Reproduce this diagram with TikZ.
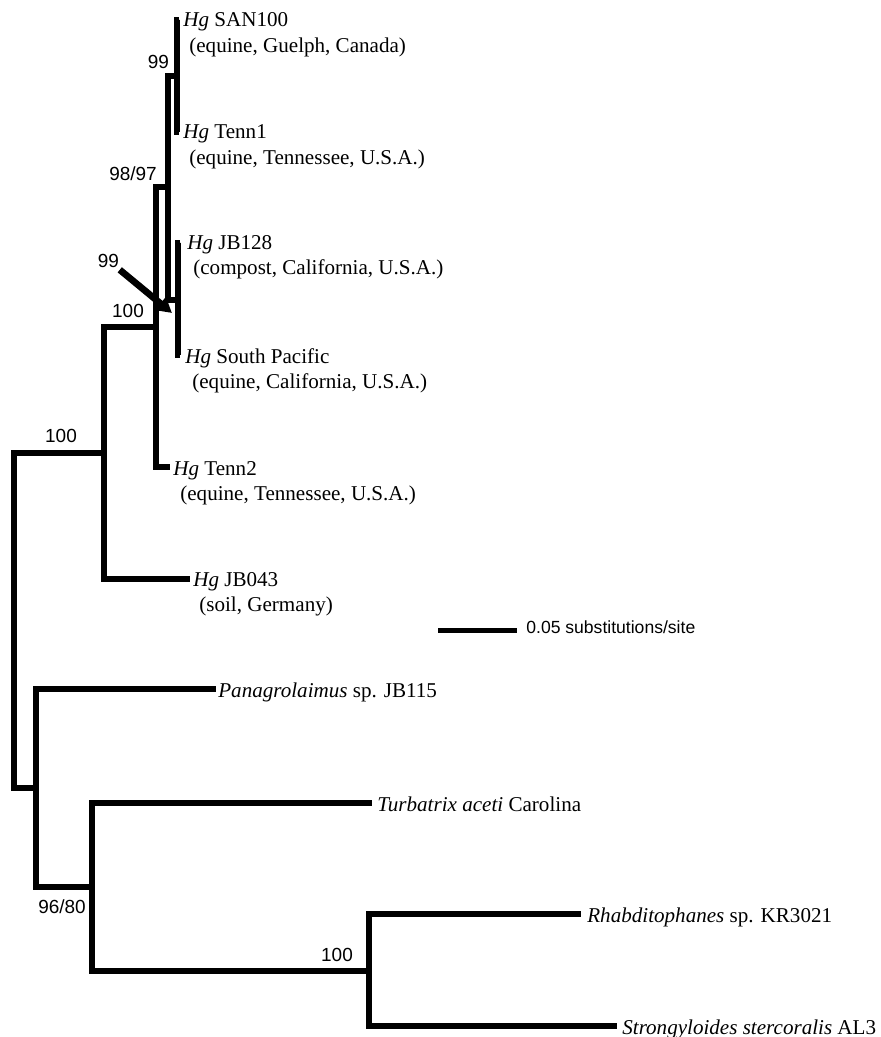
\documentclass[tikz,border=0pt]{standalone}
\usepackage{fontspec}
\setmainfont{Liberation Serif}
\setsansfont{Liberation Sans}
\usetikzlibrary{arrows.meta,positioning}
\newcommand{\genus}[1]{\textit{#1}}

\begin{document}
\begin{tikzpicture}[x=0.02cm,y=-0.02cm,
    branch/.style={line width=3.1pt,line join=miter},
    taxon/.style={font=\fontsize{12}{14}\selectfont,anchor=base west,inner sep=0pt},
    boot/.style={font=\sffamily\fontsize{10.8}{12}\selectfont,inner sep=0pt},
    pointer/.style={line width=3.8pt,shorten <=2pt,-{Triangle[length=0.3cm,width=0.32cm]}}]
    \useasboundingbox (0,0) rectangle (880,1037);
    % internal nodes
    \coordinate (root) at (14,620);
    \coordinate (hg) at (104,453);
    \coordinate (hgA) at (156,327);
    \coordinate (hgB) at (168,187);
    \coordinate (hgC) at (177,76);
    \coordinate (hgD) at (178,300);
    \coordinate (out) at (36,788);
    \coordinate (outA) at (92,887);
    \coordinate (outB) at (369,971);
    % tips
    \coordinate (san) at (179,20);
    \coordinate (tennA) at (179,132);
    \coordinate (jbA) at (180,243);
    \coordinate (pac) at (180,355);
    \coordinate (tennB) at (170,467);
    \coordinate (jbB) at (190,579);
    \coordinate (pan) at (216,689);
    \coordinate (tur) at (372,803);
    \coordinate (rha) at (581,914);
    \coordinate (str) at (617,1026);
    % branches
    \draw[branch] (root) |- (hg) (root) |- (out);
    \draw[branch] (hg) |- (hgA) (hg) |- (jbB);
    \draw[branch] (hgA) |- (hgB) (hgA) |- (tennB);
    \draw[branch] (hgB) |- (hgC) (hgB) |- (hgD);
    \draw[branch] (hgC) |- (san) (hgC) |- (tennA);
    \draw[branch] (hgD) |- (jbA) (hgD) |- (pac);
    \draw[branch] (out) |- (pan) (out) |- (outA);
    \draw[branch] (outA) |- (tur) (outA) |- (outB);
    \draw[branch] (outB) |- (rha) (outB) |- (str);
    % taxon labels
    \node[taxon] (lSan) at (183,27) {\genus{Hg} SAN100};
    \node[taxon] (sSan) at (189,53) {(equine, Guelph, Canada)};
    \node[taxon] (lTennA) at (183,139) {\genus{Hg} Tenn1};
    \node[taxon] (sTennA) at (189,165) {(equine, Tennessee, U.S.A.)};
    \node[taxon] (lJbA) at (187,249) {\genus{Hg} JB128};
    \node[taxon] (sJbA) at (193,274) {(compost, California, U.S.A.)};
    \node[taxon] (lPac) at (185,363) {\genus{Hg} South Pacific};
    \node[taxon] (sPac) at (192,388) {(equine, California, U.S.A.)};
    \node[taxon] (lTennB) at (173,475) {\genus{Hg} Tenn2};
    \node[taxon] (sTennB) at (180,500) {(equine, Tennessee, U.S.A.)};
    \node[taxon] (lJbB) at (193,586) {\genus{Hg} JB043};
    \node[taxon] (sJbB) at (199,611) {(soil, Germany)};
    \node[taxon] (lPan) at (218,697) {\genus{Panagrolaimus} sp. JB115};
    \node[taxon] (lTur) at (377,811) {\genus{Turbatrix aceti} Carolina};
    \node[taxon] (lRha) at (587,922) {\genus{Rhabditophanes} sp. KR3021};
    \node[taxon] (lStr) at (622,1034) {\genus{Strongyloides stercoralis} AL3};
    % bootstrap values
    \node[boot] (bHg) at (61,435.5) {100};
    \node[boot] (bHgA) at (128,310.5) {100};
    \node[boot] (bHgB) at (133,173.5) {98/97};
    \node[boot] (bHgC) at (158.5,61.5) {99};
    \node[boot] (bHgD) at (108.5,260.5) {99};
    \node[boot] (bOutA) at (62,906.5) {96/80};
    \node[boot] (bOutB) at (337,955) {100};
    \coordinate (aTip) at (172,313);
    \draw[pointer] (bHgD) -- (aTip);
    % scale bar
    \coordinate (barL) at (438,630.5);
    \coordinate (barR) at (517,630.5);
    \draw[branch] (barL) -- (barR);
    \node[boot,anchor=base west,font=\sffamily\fontsize{10}{12}\selectfont] (lBar) at (526,633) {0.05 substitutions/site};
\end{tikzpicture}
\end{document}
